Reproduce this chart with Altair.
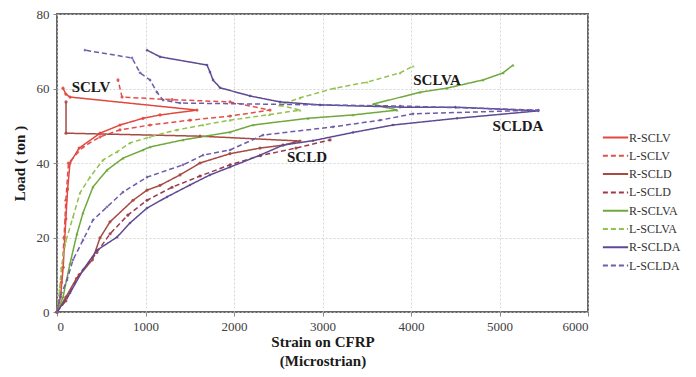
import altair as alt
import pandas as pd

series_names = ["R-SCLV", "L-SCLV", "R-SCLD", "L-SCLD",
                "R-SCLVA", "L-SCLVA", "R-SCLDA", "L-SCLDA"]
series_colors = ["#e2483e", "#e0504c", "#a64a42", "#9a3c48",
                 "#6fa83c", "#93c050", "#5e4a94", "#6c5caa"]
series_dash = [[1, 0], [5, 3], [1, 0], [5, 3], [1, 0], [5, 3], [1, 0], [5, 3]]
marker_groups = {"circle": ["R-SCLV", "L-SCLV", "R-SCLD", "L-SCLD"],
                 "triangle-up": ["R-SCLVA", "L-SCLVA"],
                 "diamond": ["R-SCLDA", "L-SCLDA"]}

r_sclv_strain = [0, 40, 70, 100, 120, 147, 250, 486, 712, 972, 1164, 1582, 147, 100, 68]
r_sclv_load = [0, 4, 12, 25, 33, 40, 44, 48, 50.2, 52, 52.9, 54.2, 57.7, 58.5, 60.1]

l_sclv_strain = [0, 50, 80, 100, 130, 294, 486, 712, 1051, 1503, 1955, 2407, 1955, 1300, 735, 689]
l_sclv_load = [0, 8, 20, 30, 40, 44.3, 47, 48.9, 50.2, 51.5, 52.6, 54.2, 56.4, 57, 57.7, 62.3]

r_scld_strain = [0, 100, 220, 400, 486, 599, 859, 1017, 1164, 1390, 1616, 1955, 2294, 2554, 2746, 1616, 102, 102]
r_scld_load = [0, 4, 9, 14, 19.9, 24.2, 30, 32.7, 34, 36.8, 40, 42.5, 44, 44.8, 45.9, 47.2, 48, 56.4]

l_scld_strain = [0, 100, 250, 450, 600, 800, 1017, 1300, 1616, 1955, 2300, 2700, 3085]
l_scld_load = [0, 3, 10, 16, 21, 26, 30, 33.5, 36.5, 39.5, 42, 44, 46.2]

r_sclva_strain = [0, 68, 147, 226, 294, 407, 565, 746, 972, 1051, 1424, 1955, 2215, 2836, 3345, 3842,
                  3571, 4102, 4407, 4814, 5040, 5153]
r_sclva_load = [0, 4, 13, 21, 26.6, 33.6, 38.1, 41.3, 43.5, 44.3, 46.2, 48.3, 50.2, 52, 52.9, 54.2,
                55.8, 59, 60.1, 62.3, 64.2, 66.3]

l_sclva_strain = [0, 30, 50, 100, 181, 260, 373, 520, 678, 825, 1051, 1356, 1650, 1955, 2400, 2746,
                  2520, 2746, 3141, 3503, 3876, 4023]
l_sclva_load = [0, 6, 12, 19, 25.5, 32, 36.2, 40.8, 43, 45.4, 47, 48.9, 50.2, 51.5, 53, 54.2,
                55.5, 57.5, 60.1, 61.7, 64.2, 66]

r_sclda_strain = [0, 147, 294, 452, 678, 825, 1017, 1243, 1503, 1729, 1955, 2294, 2554, 2893, 3345,
                  3797, 4520, 5440, 4500, 3876, 2972, 2520, 2181, 1842, 1763, 1729, 1695, 1164, 1017]
r_sclda_load = [0, 5.1, 11.3, 16.6, 20.1, 23.9, 27.9, 30.9, 34.1, 36.8, 38.9, 42.1, 44.8, 46, 48.2,
                50.2, 52, 54, 55, 55, 55.6, 56.4, 58, 60.2, 62.3, 64.4, 66.3, 68.5, 70.3]

l_sclda_strain = [0, 34, 113, 181, 294, 407, 565, 746, 1017, 1424, 1650, 1955, 2328, 3119, 3650, 4023,
                  5440, 3876, 1390, 1198, 1130, 1051, 938, 848, 316]
l_sclda_load = [0, 4, 8.6, 14, 19.3, 24.7, 28.2, 32.2, 36.2, 39.5, 42.1, 43.5, 47.5, 49.7, 51.5, 53.2,
                54.2, 55.3, 56.1, 56.9, 59, 62.3, 64.2, 68.2, 70.3]

strains = [r_sclv_strain, l_sclv_strain, r_scld_strain, l_scld_strain,
           r_sclva_strain, l_sclva_strain, r_sclda_strain, l_sclda_strain]
loads = [r_sclv_load, l_sclv_load, r_scld_load, l_scld_load,
         r_sclva_load, l_sclva_load, r_sclda_load, l_sclda_load]

label_text = ["SCLV", "SCLD", "SCLVA", "SCLDA"]
label_strain = [384, 2825, 4294, 5209]
label_load = [60.4, 41.6, 62.3, 49.9]

rows = []
for name, xs, ys in zip(series_names, strains, loads):
    for i, (x, y) in enumerate(zip(xs, ys)):
        rows.append({"series": name, "strain": x, "load": y, "order": i})
df = pd.DataFrame(rows)
labels_df = pd.DataFrame({"text": label_text, "strain": label_strain, "load": label_load})

serif = "Liberation Serif"

x_enc = alt.X("strain:Q", scale=alt.Scale(domain=[0, 6000], nice=False),
              axis=alt.Axis(values=[0, 1000, 2000, 3000, 4000, 5000, 6000], format="d",
                            title=["Strain on CFRP", "(Microstrian)"],
                            titleY=22, titleBaseline="top", titleLineHeight=19))
y_enc = alt.Y("load:Q", scale=alt.Scale(domain=[0, 80], nice=False),
              axis=alt.Axis(values=[0, 10, 20, 30, 40, 50, 60, 70, 80], title="Load ( ton )",
                            titleX=-30))

legend = alt.Legend(title=None, orient="none", legendX=548, legendY=113,
                    symbolType="M-1.35,0H1.35", symbolSize=350, symbolStrokeWidth=2,
                    symbolFillColor="transparent",
                    labelFont=serif, labelFontSize=12, labelColor="#333333",
                    rowPadding=1.3, labelOffset=3)
color_scale = alt.Scale(domain=series_names, range=series_colors)

lines = alt.Chart(df).mark_line(strokeWidth=1.5).encode(
    x=x_enc, y=y_enc,
    color=alt.Color("series:N", scale=color_scale, legend=legend),
    strokeDash=alt.StrokeDash("series:N", scale=alt.Scale(domain=series_names, range=series_dash),
                              legend=legend),
    order="order:Q")

point_layers = []
for shp, members in marker_groups.items():
    point_layers.append(
        alt.Chart(df).transform_filter(alt.FieldOneOfPredicate(field="series", oneOf=members))
        .mark_point(filled=True, size=10, shape=shp, opacity=0.9)
        .encode(x="strain:Q", y="load:Q",
                color=alt.Color("series:N", scale=color_scale, legend=None)))

texts = alt.Chart(labels_df).mark_text(font=serif, fontSize=15, fontWeight="bold", color="#1a1a1a").encode(
    x="strain:Q", y="load:Q", text="text:N")

chart = alt.layer(lines, *point_layers, texts).properties(
    width=531, height=298,
    autosize=alt.AutoSizeParams(type="none"),
    padding={"left": 49, "top": 6, "right": 100, "bottom": 60},
).configure_view(
    stroke="#666666", strokeWidth=2
).configure_axis(
    labelFont=serif, labelFontSize=13, labelColor="#404040",
    titleFont=serif, titleFontSize=15, titleFontWeight="bold", titleColor="#1a1a1a",
    gridColor="#cccccc", gridDash=[2, 2], gridWidth=0.8,
    domain=False, tickColor="#888888", tickSize=4, labelPadding=4
)

chart.save("out.html", embed_options={"renderer": "svg", "actions": False})
